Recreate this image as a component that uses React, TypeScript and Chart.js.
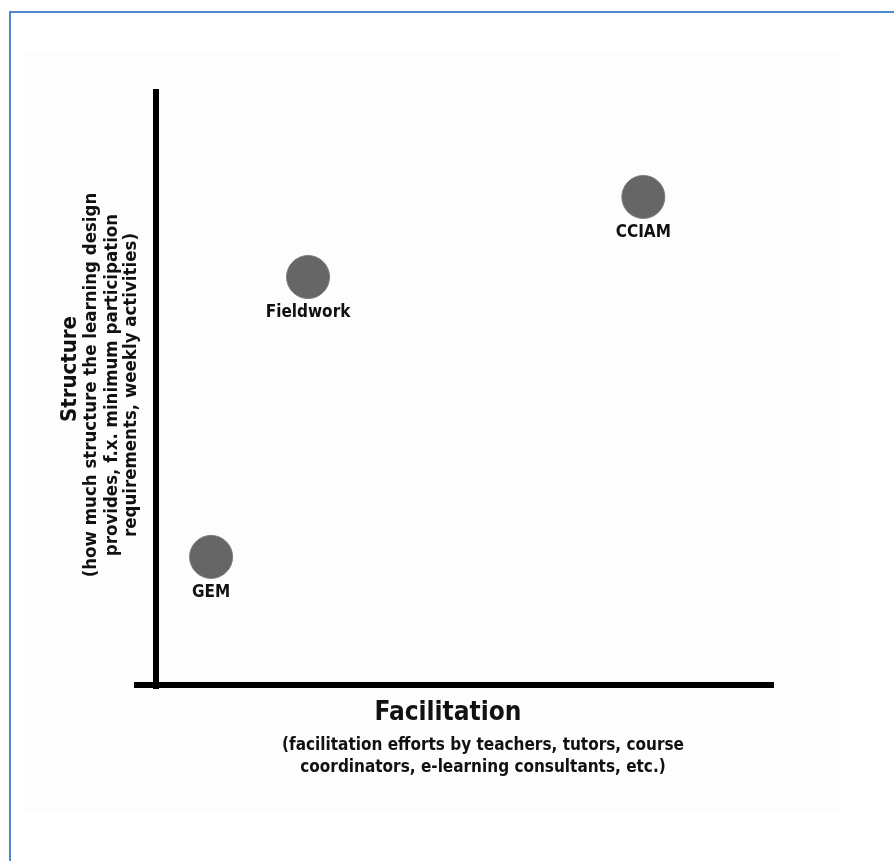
import React, { useEffect, useRef } from "react";
import { Chart, registerables } from "chart.js";

Chart.register(...registerables);

const projects = ["GEM", "Fieldwork", "CCIAM"];
const facilitation = [0.9, 2.47, 7.9];
const structure = [2.16, 6.88, 8.23];

const xTitle = "Facilitation";
const xSubtitle = [
  "(facilitation efforts by teachers, tutors, course",
  "coordinators, e-learning consultants, etc.)",
];
const yTitle = "Structure";
const ySubtitle = [
  "(how much structure the learning design",
  "provides, f.x. minimum participation",
  "requirements, weekly activities)",
];

const FONT = '"DejaVu Sans Condensed", "DejaVu Sans", sans-serif';

const labelsPlugin = {
  id: "pointLabels",
  afterDatasetsDraw(chart: any) {
    const ctx = chart.ctx;
    const meta = chart.getDatasetMeta(0);
    ctx.save();
    ctx.fillStyle = "#111";
    ctx.font = `bold 17px ${FONT}`;
    ctx.textAlign = "center";
    ctx.textBaseline = "middle";
    meta.data.forEach((el: any, i: number) => {
      ctx.fillText(projects[i], el.x, el.y + 36);
    });
    ctx.restore();
  },
};

const titlesPlugin = {
  id: "axisTitles",
  afterDraw(chart: any) {
    const ctx = chart.ctx;
    ctx.save();
    ctx.fillStyle = "#111";
    ctx.textAlign = "center";
    ctx.textBaseline = "middle";
    ctx.font = `bold 26px ${FONT}`;
    ctx.fillText(xTitle, 448, 713);
    ctx.font = `bold 17px ${FONT}`;
    ctx.fillText(xSubtitle[0], 483, 746);
    ctx.fillText(xSubtitle[1], 483, 768);

    ctx.save();
    ctx.translate(70, 369);
    ctx.rotate(-Math.PI / 2);
    ctx.font = `bold 22px ${FONT}`;
    ctx.fillText(yTitle, 0, 0);
    ctx.restore();
    ctx.font = `bold 18.5px ${FONT}`;
    const xs = [91, 112, 131];
    ySubtitle.forEach((t, i) => {
      ctx.save();
      ctx.translate(xs[i], 385);
      ctx.rotate(-Math.PI / 2);
      ctx.fillText(t, 0, 0);
      ctx.restore();
    });
    ctx.restore();
  },
};

export default function App() {
  const ref = useRef<HTMLCanvasElement>(null);
  useEffect(() => {
    if (!ref.current) return;
    const chart = new Chart(ref.current, {
      type: "scatter",
      data: {
        datasets: [
          {
            data: facilitation.map((x, i) => ({ x, y: structure[i] })),
            backgroundColor: "#666666",
            borderColor: "#7a7a7a",
            borderWidth: 1,
            pointRadius: 21.5,
            pointHoverRadius: 21.5,
          },
        ],
      },
      options: {
        animation: false,
        responsive: false,
        devicePixelRatio: 1,
        events: [],
        layout: { padding: { left: 137, right: 121, top: 92, bottom: 176 } },
        plugins: { legend: { display: false }, tooltip: { enabled: false } },
        scales: {
          x: {
            type: "linear",
            position: "bottom",
            min: -0.3,
            max: 10,
            ticks: { display: false },
            grid: { display: false, drawTicks: false },
            border: { display: true, width: 6, color: "#000" },
          },
          y: {
            type: "linear",
            position: { x: 0 } as any,
            min: 0,
            max: 10,
            ticks: { display: false },
            grid: { display: false, drawTicks: false, lineWidth: 7 },
            border: { display: true, width: 6, color: "#000" },
          },
        },
      },
      plugins: [labelsPlugin, titlesPlugin],
    });
    return () => chart.destroy();
  }, []);

  return (
    <div style={{ position: "absolute", left: 0, top: 0, width: 894, height: 861, background: "#fff", overflow: "hidden" }}>
      <div style={{ position: "absolute", left: 25, top: 51, width: 815, height: 761, background: "#fdfdfd" }} />
      <div
        style={{
          position: "absolute",
          left: 9,
          top: 11,
          width: 900,
          height: 900,
          borderTop: "2px solid #4F86D0",
          borderLeft: "2px solid #4F86D0",
          boxSizing: "border-box",
        }}
      />
      <canvas ref={ref} width={894} height={861} style={{ position: "absolute", left: 0, top: 0, width: 894, height: 861 }} />
    </div>
  );
}
